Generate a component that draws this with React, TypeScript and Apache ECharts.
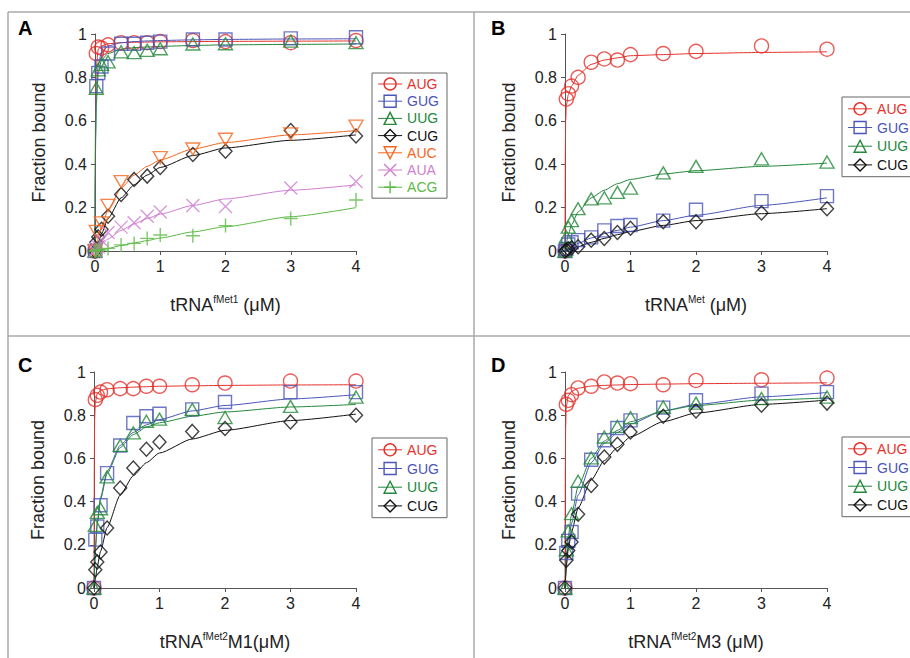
import React, { useEffect, useRef } from "react";
import * as echarts from "echarts";

const FONT = '"Liberation Sans", Arial, Helvetica, sans-serif';

// concentrations of measured points (µM) and of the fitted-curve readings
const X = [0, 0.02, 0.05, 0.1, 0.2, 0.4, 0.6, 0.8, 1, 1.5, 2, 3, 4];
const CX = [0, 0.005, 0.01, 0.02, 0.05, 0.1, 0.2, 0.4, 0.6, 0.8, 1, 1.5, 2, 3, 4];

// ---- Panel A : tRNAfMet1 ----
const A_AUG = [0, 0.91, 0.94, 0.935, 0.95, 0.96, 0.96, 0.96, 0.965, 0.97, 0.965, 0.96, 0.97];
const A_GUG = [0, 0.76, 0.82, 0.85, 0.91, 0.955, 0.955, 0.96, 0.965, 0.975, 0.975, 0.98, 0.985];
const A_UUG = [0, 0.75, 0.835, 0.86, 0.872, 0.918, 0.914, 0.925, 0.932, 0.954, 0.955, 0.967, 0.96];
const A_CUG = [0, 0.04, 0.065, 0.1, 0.16, 0.26, 0.33, 0.345, 0.385, 0.445, 0.46, 0.555, 0.53];
const A_AUC = [0, 0.09, null, 0.13, 0.21, 0.32, null, null, 0.43, 0.47, 0.515, 0.54, 0.575];
const A_AUA = [0, 0.01, 0.02, 0.05, 0.085, 0.11, 0.13, 0.16, 0.18, 0.21, 0.205, 0.29, 0.32];
const A_ACG = [0, 0.003, 0.003, 0.005, 0.012, 0.028, 0.035, 0.058, 0.074, 0.07, 0.117, 0.15, 0.235];

const A_AUG_FIT = [0, 0.5, 0.72, 0.85, 0.93, 0.945, 0.955, 0.96, 0.962, 0.963, 0.964, 0.965, 0.966, 0.967, 0.968];
const A_GUG_FIT = [0, 0.35, 0.55, 0.72, 0.86, 0.915, 0.945, 0.96, 0.965, 0.968, 0.97, 0.973, 0.975, 0.977, 0.978];
const A_UUG_FIT = [0, 0.32, 0.52, 0.68, 0.82, 0.88, 0.91, 0.93, 0.937, 0.94, 0.943, 0.947, 0.95, 0.952, 0.954];
const A_CUG_FIT = [0, 0.004, 0.008, 0.016, 0.04, 0.08, 0.15, 0.245, 0.305, 0.35, 0.385, 0.44, 0.475, 0.51, 0.535];
const A_AUC_FIT = [0, 0.006, 0.012, 0.024, 0.06, 0.11, 0.19, 0.29, 0.35, 0.39, 0.42, 0.47, 0.5, 0.535, 0.555];
const A_AUA_FIT = [0, 0.002, 0.003, 0.006, 0.015, 0.03, 0.055, 0.095, 0.125, 0.15, 0.17, 0.21, 0.24, 0.28, 0.305];
const A_ACG_FIT = [0, 0, 0.001, 0.001, 0.003, 0.006, 0.012, 0.025, 0.037, 0.048, 0.06, 0.088, 0.112, 0.158, 0.2];

// ---- Panel B : tRNAMet ----
const B_AUG = [0, 0.7, 0.725, 0.76, 0.8, 0.87, 0.885, 0.88, 0.905, 0.91, 0.92, 0.945, 0.93];
const B_GUG = [0, 0.01, 0.03, 0.04, 0.05, 0.063, 0.095, 0.115, 0.12, 0.14, 0.19, 0.23, 0.253];
const B_UUG = [0, 0.065, 0.11, 0.14, 0.195, 0.24, 0.245, 0.27, 0.29, 0.36, 0.39, 0.425, 0.41];
const B_CUG = [0, 0.005, 0.01, 0.015, 0.02, 0.05, 0.058, 0.085, 0.105, 0.135, 0.135, 0.175, 0.195];

const B_AUG_FIT = [0, 0.45, 0.6, 0.67, 0.72, 0.76, 0.81, 0.86, 0.88, 0.89, 0.9, 0.905, 0.91, 0.915, 0.918];
const B_GUG_FIT = [0, 0.001, 0.002, 0.004, 0.01, 0.02, 0.035, 0.06, 0.08, 0.095, 0.11, 0.14, 0.165, 0.21, 0.245];
const B_UUG_FIT = [0, 0.01, 0.02, 0.035, 0.075, 0.12, 0.18, 0.245, 0.28, 0.31, 0.33, 0.355, 0.37, 0.39, 0.405];
const B_CUG_FIT = [0, 0.001, 0.001, 0.002, 0.005, 0.01, 0.02, 0.04, 0.058, 0.075, 0.09, 0.118, 0.14, 0.172, 0.195];

// ---- Panel C : tRNAfMet2 M1 ----
const C_AUG = [0, 0.872, 0.892, 0.907, 0.918, 0.923, 0.923, 0.934, 0.934, 0.941, 0.949, 0.958, 0.958];
const C_GUG = [0, 0.224, 0.285, 0.383, 0.532, 0.66, 0.764, 0.795, 0.807, 0.827, 0.861, 0.907, 0.907];
const C_UUG = [0, 0.29, 0.35, 0.367, 0.514, 0.66, 0.718, 0.772, 0.782, 0.827, 0.789, 0.841, 0.884];
const C_CUG = [0, 0.085, 0.12, 0.167, 0.278, 0.463, 0.556, 0.642, 0.676, 0.725, 0.738, 0.769, 0.8];

const C_AUG_FIT = [0, 0.6, 0.78, 0.86, 0.9, 0.915, 0.922, 0.927, 0.93, 0.932, 0.934, 0.936, 0.938, 0.94, 0.941];
const C_GUG_FIT = [0, 0.05, 0.1, 0.18, 0.3, 0.42, 0.54, 0.66, 0.72, 0.755, 0.78, 0.82, 0.845, 0.875, 0.895];
const C_UUG_FIT = [0, 0.05, 0.1, 0.18, 0.3, 0.41, 0.53, 0.65, 0.71, 0.745, 0.765, 0.795, 0.815, 0.838, 0.85];
const C_CUG_FIT = [0, 0.01, 0.02, 0.04, 0.1, 0.17, 0.28, 0.43, 0.52, 0.58, 0.625, 0.69, 0.73, 0.775, 0.805];

// ---- Panel D : tRNAfMet2 M3 ----
const D_AUG = [0, 0.85, 0.869, 0.895, 0.926, 0.934, 0.954, 0.949, 0.946, 0.941, 0.961, 0.964, 0.972];
const D_GUG = [0, 0.162, 0.218, 0.259, 0.437, 0.594, 0.684, 0.741, 0.776, 0.835, 0.869, 0.9, 0.907];
const D_UUG = [0, 0.177, 0.264, 0.344, 0.494, 0.602, 0.699, 0.748, 0.789, 0.838, 0.856, 0.877, 0.884];
const D_CUG = [0, 0.128, 0.174, 0.213, 0.341, 0.475, 0.606, 0.665, 0.722, 0.795, 0.819, 0.846, 0.856];

const D_AUG_FIT = [0, 0.55, 0.75, 0.84, 0.89, 0.91, 0.925, 0.935, 0.938, 0.94, 0.942, 0.944, 0.946, 0.948, 0.95];
const D_GUG_FIT = [0, 0.03, 0.06, 0.12, 0.2, 0.3, 0.43, 0.58, 0.67, 0.72, 0.76, 0.82, 0.85, 0.885, 0.905];
const D_UUG_FIT = [0, 0.04, 0.08, 0.15, 0.24, 0.34, 0.47, 0.6, 0.68, 0.73, 0.77, 0.82, 0.845, 0.87, 0.88];
const D_CUG_FIT = [0, 0.03, 0.05, 0.1, 0.18, 0.26, 0.37, 0.5, 0.59, 0.65, 0.7, 0.77, 0.81, 0.85, 0.87];

const X_TICKS = [0, 1, 2, 3, 4];
const Y_TICKS = [0, 0.2, 0.4, 0.6, 0.8, 1];

const COL: Record<string, string> = {
  AUG: "#e5322d",
  GUG: "#4b56b8",
  UUG: "#23883a",
  CUG: "#111111",
  AUC: "#f4661f",
  AUA: "#cf7fd0",
  ACG: "#5cb946",
};

const SYM: Record<string, { symbol: string; size: any }> = {
  AUG: { symbol: "circle", size: 14 },
  GUG: { symbol: "rect", size: 13 },
  UUG: { symbol: "triangle", size: [14, 12] },
  CUG: { symbol: "diamond", size: [13, 14] },
  AUC: { symbol: "path://M0,0L10,0L5,8.66Z", size: [14, 12] },
  AUA: { symbol: "path://M0,0L10,10M10,0L0,10", size: 13 },
  ACG: { symbol: "path://M5,0L5,10M0,5L10,5", size: 14 },
};

const PANELS = [
  {
    letter: "A",
    sup: "fMet1",
    rest: " (μM)",
    codes: ["AUG", "GUG", "UUG", "CUG", "AUC", "AUA", "ACG"],
    pts: { AUG: A_AUG, GUG: A_GUG, UUG: A_UUG, CUG: A_CUG, AUC: A_AUC, AUA: A_AUA, ACG: A_ACG },
    fit: { AUG: A_AUG_FIT, GUG: A_GUG_FIT, UUG: A_UUG_FIT, CUG: A_CUG_FIT, AUC: A_AUC_FIT, AUA: A_AUA_FIT, ACG: A_ACG_FIT },
  },
  {
    letter: "B",
    sup: "Met",
    rest: " (μM)",
    codes: ["AUG", "GUG", "UUG", "CUG"],
    pts: { AUG: B_AUG, GUG: B_GUG, UUG: B_UUG, CUG: B_CUG },
    fit: { AUG: B_AUG_FIT, GUG: B_GUG_FIT, UUG: B_UUG_FIT, CUG: B_CUG_FIT },
  },
  {
    letter: "C",
    sup: "fMet2",
    rest: "M1(μM)",
    codes: ["AUG", "GUG", "UUG", "CUG"],
    pts: { AUG: C_AUG, GUG: C_GUG, UUG: C_UUG, CUG: C_CUG },
    fit: { AUG: C_AUG_FIT, GUG: C_GUG_FIT, UUG: C_UUG_FIT, CUG: C_CUG_FIT },
  },
  {
    letter: "D",
    sup: "fMet2",
    rest: "M3 (μM)",
    codes: ["AUG", "GUG", "UUG", "CUG"],
    pts: { AUG: D_AUG, GUG: D_GUG, UUG: D_UUG, CUG: D_CUG },
    fit: { AUG: D_AUG_FIT, GUG: D_GUG_FIT, UUG: D_UUG_FIT, CUG: D_CUG_FIT },
  },
];

// layout (pixels)
const GRIDS = [
  { left: 95, top: 34, width: 261, height: 217 },
  { left: 565, top: 34, width: 262, height: 217 },
  { left: 94, top: 372, width: 262, height: 216 },
  { left: 565, top: 372, width: 262, height: 216 },
];
const LETTER_POS = [
  [18, 28],
  [491, 28],
  [18, 365],
  [491, 365],
];
const LEGEND_POS = [
  { left: 372, top: 73, gap: 3.2, pad: 4 },
  { left: 842, top: 97, gap: 4.7, pad: 4.8 },
  { left: 372, top: 438, gap: 4.7, pad: 4.8 },
  { left: 842, top: 437, gap: 4.7, pad: 4.8 },
];

const pair = (xs: number[], ys: (number | null)[]) =>
  xs.map((x, i) => (ys[i] == null ? null : [x, ys[i]])).filter((d) => d !== null);

function buildOption() {
  const grid: any[] = [];
  const xAxis: any[] = [];
  const yAxis: any[] = [];
  const curves: any[] = [];
  const scatters: any[] = [];
  const legend: any[] = [];
  const axisLineStyle = { color: "#555", width: 1 };

  PANELS.forEach((p, i) => {
    grid.push({ ...GRIDS[i], containLabel: false });
    xAxis.push({
      gridIndex: i,
      type: "value",
      min: X_TICKS[0],
      max: X_TICKS[X_TICKS.length - 1],
      interval: 1,
      axisLine: { show: true, onZero: false, lineStyle: axisLineStyle },
      axisTick: { show: true, length: 4, lineStyle: axisLineStyle },
      axisLabel: { fontSize: 16, color: "#222", margin: 7, fontFamily: FONT },
      splitLine: { show: false },
      name: `{a|tRNA}{s|${p.sup}}{a|${p.rest}}`,
      nameLocation: "middle",
      nameGap: 43,
      nameTextStyle: {
        fontFamily: FONT,
        fontSize: 18,
        color: "#222",
        rich: {
          a: { fontFamily: FONT, fontSize: 18, color: "#222", lineHeight: 22 },
          s: { fontFamily: FONT, fontSize: 10, color: "#222", lineHeight: 12, verticalAlign: "top" },
        },
      },
    });
    yAxis.push({
      gridIndex: i,
      type: "value",
      min: Y_TICKS[0],
      max: Y_TICKS[Y_TICKS.length - 1],
      interval: 0.2,
      axisLine: { show: true, onZero: false, lineStyle: axisLineStyle },
      axisTick: { show: true, length: 4, lineStyle: axisLineStyle },
      axisLabel: { fontSize: 16, color: "#222", margin: 8, fontFamily: FONT },
      splitLine: { show: false },
      name: "Fraction bound",
      nameLocation: "middle",
      nameGap: 47,
      nameTextStyle: { fontFamily: FONT, fontSize: 18, color: "#222" },
    });

    p.codes.forEach((code) => {
      const c = COL[code];
      curves.push({
        type: "line",
        name: code,
        xAxisIndex: i,
        yAxisIndex: i,
        data: pair(CX, (p.fit as any)[code]),
        symbol: SYM[code].symbol,
        symbolSize: SYM[code].size,
        showSymbol: false,
        smooth: 0.2,
        smoothMonotone: "x",
        lineStyle: { color: c, width: 1 },
        itemStyle: { color: "transparent", borderColor: c, borderWidth: 1.4 },
        clip: false,
        silent: true,
        z: 2,
      });
      scatters.push({
        type: "scatter",
        name: code,
        xAxisIndex: i,
        yAxisIndex: i,
        data: pair(X, (p.pts as any)[code]),
        symbol: SYM[code].symbol,
        symbolSize: SYM[code].size,
        itemStyle: { color: "transparent", borderColor: c, borderWidth: 1.4 },
        clip: false,
        silent: true,
        z: 3,
      });
    });

    const lp = LEGEND_POS[i];
    legend.push({
      left: lp.left,
      top: lp.top,
      orient: "vertical",
      selectedMode: false,
      itemWidth: 24,
      itemHeight: 15,
      itemGap: lp.gap,
      padding: [lp.pad, 8, lp.pad, 5.6],
      borderColor: "#666",
      borderWidth: 1,
      backgroundColor: "#fff",
      textStyle: { fontSize: 14, fontFamily: FONT },
      data: p.codes.map((code) => ({
        name: code,
        textStyle: { color: COL[code], fontSize: 14, fontFamily: FONT },
        itemStyle: { color: "transparent", borderColor: COL[code], borderWidth: 1.4 },
        lineStyle: { color: COL[code], width: 1 },
      })),
    });
  });

  const border = { stroke: "#aaa", lineWidth: 1.5 };
  const graphic: any[] = [
    { type: "line", shape: { x1: 8, y1: 12, x2: 910, y2: 12 }, style: border, silent: true },
    { type: "line", shape: { x1: 8, y1: 12, x2: 8, y2: 658 }, style: border, silent: true },
    { type: "line", shape: { x1: 474, y1: 12, x2: 474, y2: 658 }, style: border, silent: true },
    { type: "line", shape: { x1: 8, y1: 336, x2: 910, y2: 336 }, style: border, silent: true },
  ];
  PANELS.forEach((p, i) => {
    graphic.push({
      type: "text",
      x: LETTER_POS[i][0],
      y: LETTER_POS[i][1],
      silent: true,
      style: {
        text: p.letter,
        font: `bold 20px ${FONT}`,
        fill: "#000",
        verticalAlign: "middle",
      },
    });
  });

  return {
    animation: false,
    backgroundColor: "#fff",
    grid,
    xAxis,
    yAxis,
    legend,
    graphic,
    series: [...curves, ...scatters],
  };
}

export default function App() {
  const ref = useRef<HTMLDivElement>(null);
  useEffect(() => {
    if (!ref.current) return;
    const chart = echarts.init(ref.current, undefined, { renderer: "svg" });
    chart.setOption(buildOption() as any);
    return () => chart.dispose();
  }, []);
  return (
    <div
      ref={ref}
      style={{ position: "absolute", left: 0, top: 0, width: 910, height: 658, overflow: "hidden", background: "#fff" }}
    />
  );
}
